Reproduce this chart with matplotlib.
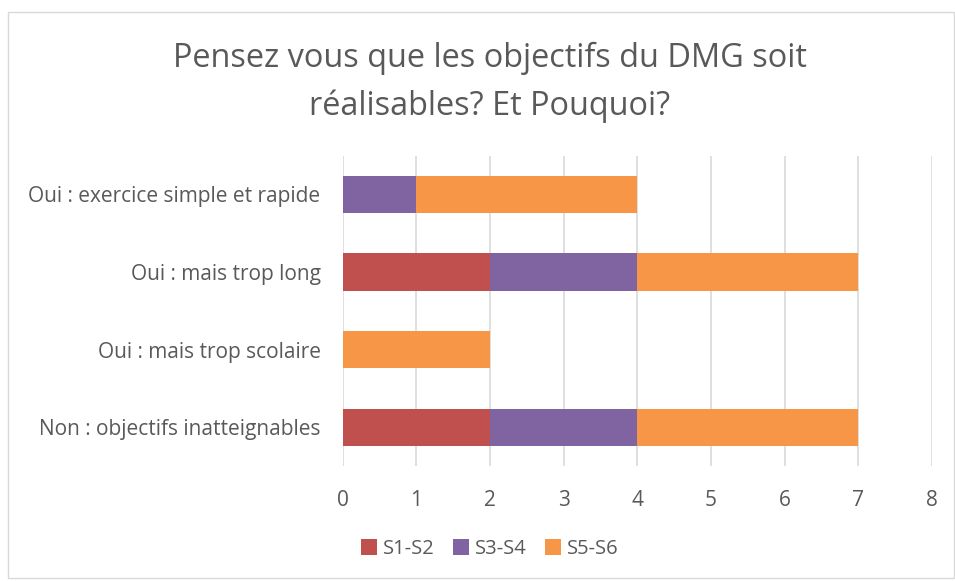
import matplotlib.pyplot as plt
from matplotlib.patches import Rectangle

# Données
categories = ["Non : objectifs inatteignables", "Oui : mais trop scolaire",
              "Oui : mais trop long", "Oui : exercice simple et rapide"]
s1_s2 = [2, 0, 2, 0]
s3_s4 = [2, 0, 2, 1]
s5_s6 = [3, 2, 3, 3]
series = ["S1-S2", "S3-S4", "S5-S6"]
colors = ["#C0504D", "#8064A2", "#F79646"]

plt.rcParams['font.family'] = ['Open Sans', 'DejaVu Sans']
text_color = "#595959"

fig = plt.figure(figsize=(9.55, 5.81), dpi=100)
ax = fig.add_axes([0.359, 0.198, 0.617, 0.534])

# cadre du graphique
fig.patches.append(Rectangle((8 / 955, 1 - 578 / 581), 946 / 955, 566 / 581,
                             transform=fig.transFigure, fill=False,
                             edgecolor="#D9D9D9", linewidth=1))

y = range(len(categories))
left = [0] * len(categories)
for vals, name, c in zip([s1_s2, s3_s4, s5_s6], series, colors):
    ax.barh(y, vals, left=left, height=0.48, color=c, label=name, zorder=3)
    left = [l + v for l, v in zip(left, vals)]

ax.set_xlim(0, 8)
ax.set_ylim(-0.5, 3.5)
ax.set_yticks(list(y))
ax.set_yticklabels(categories)
ax.set_xticks(range(9))
ax.grid(axis="x", color="#D9D9D9", linewidth=1.2, zorder=0)
for s in ax.spines.values():
    s.set_visible(False)
ax.tick_params(axis="both", length=0, labelsize=15, colors=text_color)
ax.tick_params(axis="y", pad=16)
ax.tick_params(axis="x", pad=17)

fig.text(0.513, 0.858, "Pensez vous que les objectifs du DMG soit\nréalisables? Et Pouquoi?",
         ha="center", va="center", fontsize=23.4, color=text_color,
         linespacing=1.55)

leg = fig.legend(loc="center", bbox_to_anchor=(0.513, 0.055), ncol=3, frameon=False,
                 fontsize=14.5, handlelength=0.8, handleheight=0.8,
                 handletextpad=0.3, columnspacing=0.9)
for t in leg.get_texts():
    t.set_color(text_color)

fig.savefig("out.png", dpi=100)
